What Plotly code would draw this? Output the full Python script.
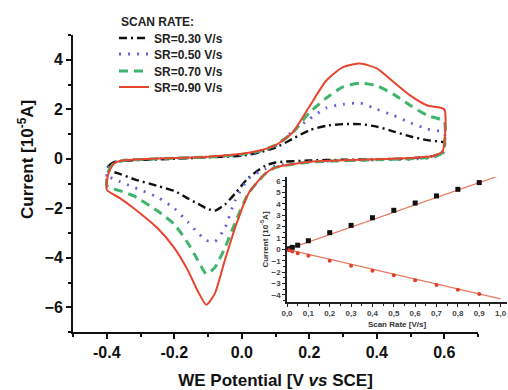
import plotly.graph_objects as go

# ---------------- main CV data ----------------
E_anodic = [-0.40, -0.395, -0.38, -0.35, -0.30, -0.20, -0.10, 0.00, 0.05, 0.10,
            0.15, 0.20, 0.25, 0.30, 0.35, 0.40, 0.45, 0.50, 0.55, 0.60]
E_cathodic = [0.60, 0.595, 0.57, 0.50, 0.40, 0.30, 0.20, 0.10, 0.07, 0.02,
              -0.02, -0.05, -0.08, -0.105, -0.13, -0.16, -0.20, -0.25, -0.32, -0.36, -0.40]

labels = ["SR=0.30 V/s", "SR=0.50 V/s", "SR=0.70 V/s", "SR=0.90 V/s"]
legend_title = "SCAN RATE:"

i_anodic_030 = [-0.42, -0.30, -0.15, -0.08, -0.05, 0.00, 0.06, 0.12, 0.25, 0.45,
                0.80, 1.15, 1.33, 1.40, 1.40, 1.30, 1.10, 0.90, 0.75, 0.65]
i_cathodic_030 = [0.50, 0.30, 0.12, 0.02, -0.02, -0.04, -0.07, -0.15, -0.28, -0.77,
                  -1.41, -1.85, -2.10, -2.00, -1.82, -1.60, -1.30, -1.10, -0.82, -0.62, -0.42]

i_anodic_050 = [-0.72, -0.35, -0.15, -0.06, -0.03, 0.02, 0.07, 0.15, 0.28, 0.50,
                1.10, 1.60, 2.05, 2.20, 2.25, 2.00, 1.75, 1.45, 1.20, 1.05]
i_cathodic_050 = [0.35, 0.20, 0.06, -0.02, -0.05, -0.08, -0.12, -0.28, -0.40, -0.80,
                  -1.70, -2.80, -3.35, -3.30, -3.00, -2.55, -2.00, -1.55, -1.15, -0.93, -0.70]

i_anodic_070 = [-1.08, -0.50, -0.20, -0.07, -0.03, 0.02, 0.07, 0.17, 0.30, 0.55,
                1.05, 1.85, 2.45, 2.90, 3.05, 2.95, 2.60, 2.15, 1.75, 1.50]
i_cathodic_070 = [0.50, 0.25, 0.08, 0.00, -0.04, -0.08, -0.14, -0.35, -0.60, -1.40,
                  -2.60, -3.60, -4.40, -4.65, -4.10, -3.40, -2.65, -2.10, -1.50, -1.30, -1.08]

i_anodic_090 = [-1.25, -0.60, -0.20, -0.06, -0.02, 0.03, 0.08, 0.20, 0.32, 0.55,
                1.05, 2.10, 3.15, 3.70, 3.85, 3.65, 3.10, 2.55, 2.15, 2.00]
i_cathodic_090 = [0.60, 0.30, 0.12, 0.03, -0.02, -0.06, -0.12, -0.35, -0.60, -1.40,
                  -2.80, -4.10, -5.45, -5.90, -5.35, -4.50, -3.60, -2.80, -2.00, -1.60, -1.25]

# ---------------- inset data ----------------
scan_rate = [0.01, 0.025, 0.05, 0.1, 0.2, 0.3, 0.4, 0.5, 0.6, 0.7, 0.8, 0.9]
ipa = [0.05, 0.17, 0.36, 0.75, 1.46, 2.10, 2.77, 3.42, 4.06, 4.68, 5.26, 5.85]
ipc = [-0.08, -0.20, -0.35, -0.56, -1.00, -1.44, -1.88, -2.28, -2.72, -3.13, -3.54, -3.92]
fit_x = [0.0, 1.0]
fit_ipa = [0.0, 6.5]
fit_ipc = [0.0, -4.35]
inset_xticks = [0.0, 0.1, 0.2, 0.3, 0.4, 0.5, 0.6, 0.7, 0.8, 0.9, 1.0]
inset_xticklabels = ["0,0", "0,1", "0,2", "0,3", "0,4", "0,5", "0,6", "0,7", "0,8", "0,9", "1,0"]

FONT = "Liberation Sans, Arial, sans-serif"

styles = [
    dict(color="#111111", width=2.4, dash="8px,4px,2px,4px"),
    dict(color="#6a5fd6", width=2.8, dash="2px,7px"),
    dict(color="#3fb56c", width=3, dash="9px,6px"),
    dict(color="#e8452e", width=2, dash="solid"),
]
anodic = [i_anodic_030, i_anodic_050, i_anodic_070, i_anodic_090]
cathodic = [i_cathodic_030, i_cathodic_050, i_cathodic_070, i_cathodic_090]
legend_ids = ["legend", "legend2", "legend3", "legend4"]

W, H = 508, 390
L, R, T, B = 73, 0, 35, 58
pw = W - L - R
ph = H - T - B


def py(pix):  # pixel row -> paper y
    return (H - B - pix) / ph


def px(pix):  # pixel column -> paper x
    return (pix - L) / pw


fig = go.Figure()
for lab, st, ia, ic, lid in zip(labels, styles, anodic, cathodic, legend_ids):
    fig.add_trace(go.Scatter(
        x=E_anodic + E_cathodic, y=ia + ic, mode="lines", name=lab, legend=lid,
        line=dict(color=st["color"], width=st["width"], dash=st["dash"],
                  shape="spline", smoothing=0.6),
        xaxis="x", yaxis="y"))

fit_color = "#e8785e"
fig.add_trace(go.Scatter(x=fit_x, y=fit_ipa, mode="lines", showlegend=False,
                         line=dict(color=fit_color, width=1.2), xaxis="x2", yaxis="y2"))
fig.add_trace(go.Scatter(x=fit_x, y=fit_ipc, mode="lines", showlegend=False,
                         line=dict(color=fit_color, width=1.2), xaxis="x2", yaxis="y2"))
fig.add_trace(go.Scatter(x=scan_rate, y=ipa, mode="markers", showlegend=False,
                         marker=dict(symbol="square", size=5, color="#111111"),
                         xaxis="x2", yaxis="y2"))
fig.add_trace(go.Scatter(x=scan_rate, y=ipc, mode="markers", showlegend=False,
                         marker=dict(symbol="circle", size=4, color="#e0402a"),
                         xaxis="x2", yaxis="y2"))

legend_rows = [38, 54, 71, 87]
leg_font = dict(family=FONT, size=12, weight="bold", color="#222222")
legends = {}
for lid, row in zip(legend_ids, legend_rows):
    legends[lid] = dict(
        x=px(114), y=py(row), xanchor="left", yanchor="middle",
        bgcolor="rgba(0,0,0,0)", borderwidth=0, font=leg_font)

fig.update_layout(
    width=W, height=H,
    margin=dict(l=L, r=R, t=T, b=B),
    paper_bgcolor="white", plot_bgcolor="rgba(0,0,0,0)",
    font=dict(family=FONT, color="#111111"),
    showlegend=True,
    **legends,
    xaxis=dict(
        domain=[0, px(478)], range=[-0.5, 0.7],
        tickvals=[-0.4, -0.2, 0.0, 0.2, 0.4, 0.6],
        ticktext=["-0.4", "-0.2", "0.0", "0.2", "0.4", "0.6"],
        ticks="outside", ticklen=5, tickwidth=2, tickcolor="#111111",
        minor=dict(tickvals=[-0.5, -0.3, -0.1, 0.1, 0.3, 0.5, 0.7], ticks="outside",
                   ticklen=3, tickwidth=2, tickcolor="#111111"),
        showline=True, linewidth=2, linecolor="#111111",
        showgrid=False, zeroline=False,
        tickfont=dict(family=FONT, size=16, weight="bold"),
        title=dict(text="WE Potential [V <i>vs</i> SCE]", standoff=14,
                   font=dict(family=FONT, size=17, weight="bold")),
    ),
    yaxis=dict(
        domain=[0, 1], range=[-7, 5],
        tickvals=[-6, -4, -2, 0, 2, 4],
        ticks="outside", ticklen=5, tickwidth=2, tickcolor="#111111",
        minor=dict(tickvals=[-7, -5, -3, -1, 1, 3, 5], ticks="outside",
                   ticklen=3, tickwidth=2, tickcolor="#111111"),
        showline=True, linewidth=2, linecolor="#111111",
        showgrid=False, zeroline=False,
        tickfont=dict(family=FONT, size=16, weight="bold"),
    ),
    xaxis2=dict(
        domain=[px(287), px(507)], range=[0, 1.03],
        anchor="y2",
        tickvals=inset_xticks, ticktext=inset_xticklabels,
        ticks="outside", ticklen=3, tickwidth=1.2, tickcolor="#222222",
        minor=dict(dtick=0.05, ticks="outside", ticklen=2, tickwidth=1, tickcolor="#222222"),
        showline=True, linewidth=1.5, linecolor="#222222",
        showgrid=False, zeroline=False,
        tickfont=dict(family=FONT, size=8, weight="bold", color="#444444"),
        title=dict(text="Scan Rate [V/s]", standoff=4,
                   font=dict(family=FONT, size=8, weight="bold", color="#333333")),
    ),
    yaxis2=dict(
        domain=[py(302), py(177)], range=[-4.62, 6.34],
        anchor="x2",
        tickvals=[-4, -3, -2, -1, 0, 1, 2, 3, 4, 5, 6],
        ticks="outside", ticklen=3, tickwidth=1.2, tickcolor="#222222",
        minor=dict(dtick=0.5, ticks="outside", ticklen=2, tickwidth=1, tickcolor="#222222"),
        showline=True, linewidth=1.5, linecolor="#222222",
        showgrid=False, zeroline=False,
        tickfont=dict(family=FONT, size=8, weight="bold", color="#444444"),
        title=dict(text="Current [10<sup>-5</sup>A]", standoff=2,
                   font=dict(family=FONT, size=8, weight="bold", color="#333333")),
    ),
    annotations=[
        dict(text=legend_title, xref="paper", yref="paper", x=px(119), y=py(22),
             xanchor="left", yanchor="middle", showarrow=False,
             font=dict(family=FONT, size=12, weight="bold", color="#222222")),
        dict(text="Current [10<sup>-5</sup>A]", xref="paper", yref="paper",
             x=px(26), y=py(160), xanchor="center", yanchor="middle",
             textangle=-90, showarrow=False,
             font=dict(family=FONT, size=17, weight="bold", color="#111111")),
    ],
)

fig.write_html("out.html")
